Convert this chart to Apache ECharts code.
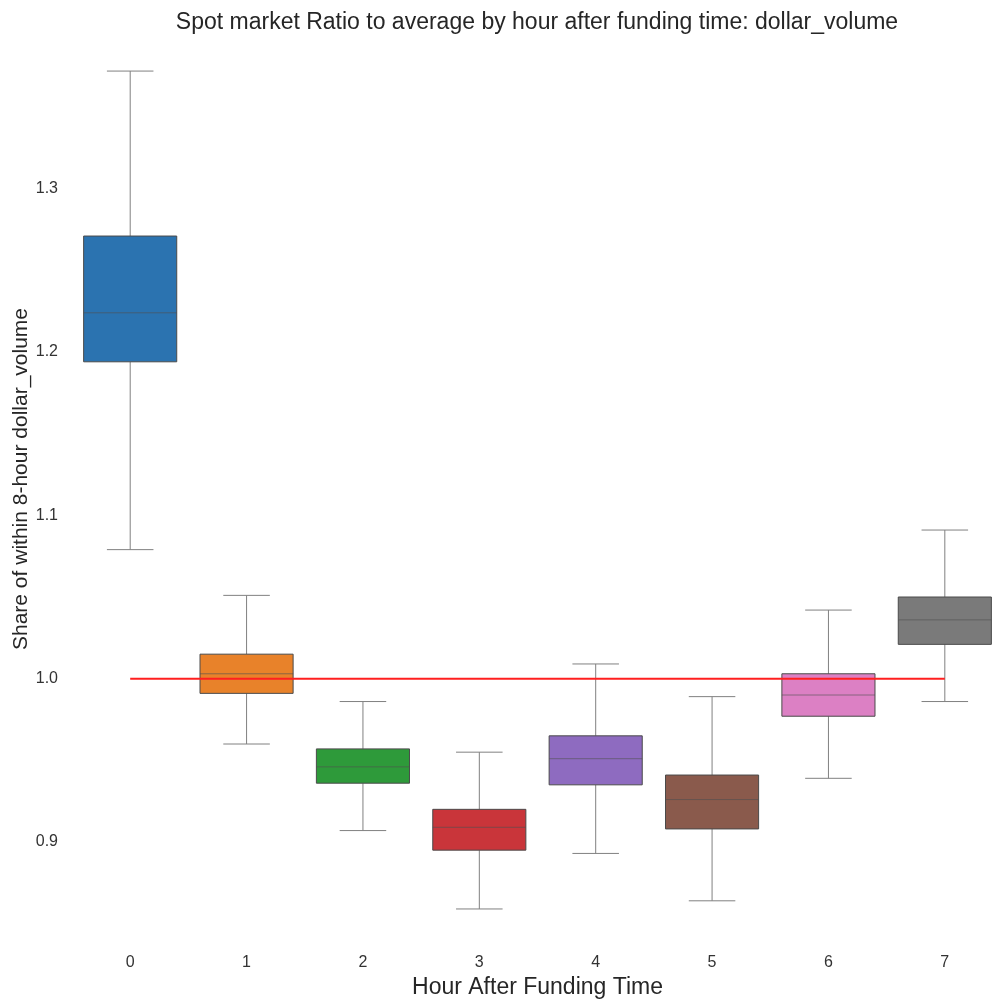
<!DOCTYPE html>
<html>
<head>
<meta charset="utf-8">
<script src="https://cdn.jsdelivr.net/npm/echarts@6/dist/echarts.min.js"></script>
<style>
  html, body { margin: 0; padding: 0; background: #fff; }
  #boxchart { width: 999px; height: 1002px; }
</style>
</head>
<body>
<div id="boxchart"></div>
<script>
  // hours after funding time
  var hours = ['0', '1', '2', '3', '4', '5', '6', '7'];
  // five number summaries
  var lowWhisker = [1.079, 0.960, 0.907, 0.859, 0.893, 0.864, 0.939, 0.986];
  var q1 = [1.194, 0.991, 0.936, 0.895, 0.935, 0.908, 0.977, 1.021];
  var medians = [1.224, 1.003, 0.946, 0.909, 0.951, 0.926, 0.990, 1.036];
  var q3 = [1.271, 1.015, 0.957, 0.920, 0.965, 0.941, 1.003, 1.050];
  var highWhisker = [1.372, 1.051, 0.986, 0.955, 1.009, 0.989, 1.042, 1.091];
  var boxColors = ['#2b73b0', '#e8822a', '#2e9a3a', '#c9353a', '#8e6bc0', '#8a5a4c', '#dc80c4', '#7a7a7a'];
  var refLine = [1, 1, 1, 1, 1, 1, 1, 1];
  var yTicks = [0.9, 1.0, 1.1, 1.2, 1.3];

  var boxData = hours.map(function(h, i) {
    return [i, lowWhisker[i], q1[i], medians[i], q3[i], highWhisker[i]];
  });

  function renderBox(params, api) {
    var idx = api.value(0);
    var band = api.size([1, 0])[0];
    var half = band * 0.4;
    var cap = band * 0.2;
    var lo = api.coord([idx, api.value(1)]);
    var b1 = api.coord([idx, api.value(2)]);
    var md = api.coord([idx, api.value(3)]);
    var b3 = api.coord([idx, api.value(4)]);
    var hi = api.coord([idx, api.value(5)]);
    var x = lo[0];
    var lineStyle = { stroke: '#808080', lineWidth: 1 };
    return {
      type: 'group',
      children: [
        { type: 'line', shape: { x1: x, y1: hi[1], x2: x, y2: b3[1] }, style: lineStyle },
        { type: 'line', shape: { x1: x, y1: b1[1], x2: x, y2: lo[1] }, style: lineStyle },
        { type: 'line', shape: { x1: x - cap, y1: hi[1], x2: x + cap, y2: hi[1] }, style: lineStyle },
        { type: 'line', shape: { x1: x - cap, y1: lo[1], x2: x + cap, y2: lo[1] }, style: lineStyle },
        {
          type: 'rect',
          shape: { x: x - half, y: b3[1], width: half * 2, height: b1[1] - b3[1] },
          style: { fill: boxColors[params.dataIndex], stroke: '#4a4a4a', lineWidth: 1 }
        },
        { type: 'line', shape: { x1: x - half, y1: md[1], x2: x + half, y2: md[1] },
          style: { stroke: '#505050', lineWidth: 1, opacity: 0.6 } }
      ]
    };
  }

  var chart = echarts.init(document.getElementById('boxchart'));
  chart.setOption({
    backgroundColor: '#ffffff',
    animation: false,
    textStyle: { fontFamily: 'Liberation Sans' },
    title: {
      text: 'Spot market Ratio to average by hour after funding time: dollar_volume',
      left: 532,
      textAlign: 'center',
      top: 6,
      textStyle: {
        fontFamily: 'Liberation Sans',
        fontSize: 23,
        fontWeight: 'normal',
        color: '#262626'
      }
    },
    grid: {
      left: 72,
      top: 58,
      right: -4,
      bottom: 62,
      outerBoundsMode: 'none',
      containLabel: false
    },
    xAxis: {
      type: 'category',
      data: hours,
      name: 'Hour After Funding Time',
      nameLocation: 'middle',
      nameGap: 34,
      nameTextStyle: { fontSize: 23, color: '#262626' },
      axisLine: { show: false },
      axisTick: { show: false },
      axisLabel: { fontSize: 16, color: '#333', margin: 15 },
      splitLine: { show: false }
    },
    yAxis: {
      type: 'value',
      min: 0.84,
      max: 1.38,
      name: 'Share of within 8-hour dollar_volume',
      nameLocation: 'middle',
      nameGap: 40,
      nameMoveOverlap: false,
      nameTextStyle: { fontSize: 21, color: '#262626', padding: [0, 0, 0, 40] },
      axisLine: { show: false },
      axisTick: { show: false },
      splitLine: { show: false },
      axisLabel: {
        customValues: yTicks,
        fontSize: 16,
        color: '#333',
        margin: 14,
        formatter: function(v) { return v.toFixed(1); }
      }
    },
    series: [
      {
        type: 'custom',
        renderItem: renderBox,
        encode: { x: 0, y: [1, 2, 3, 4, 5] },
        data: boxData,
        z: 2
      },
      {
        type: 'line',
        data: refLine,
        symbol: 'none',
        lineStyle: { color: '#ff1f1f', width: 2 },
        z: 3
      }
    ]
  });
</script>
</body>
</html>
